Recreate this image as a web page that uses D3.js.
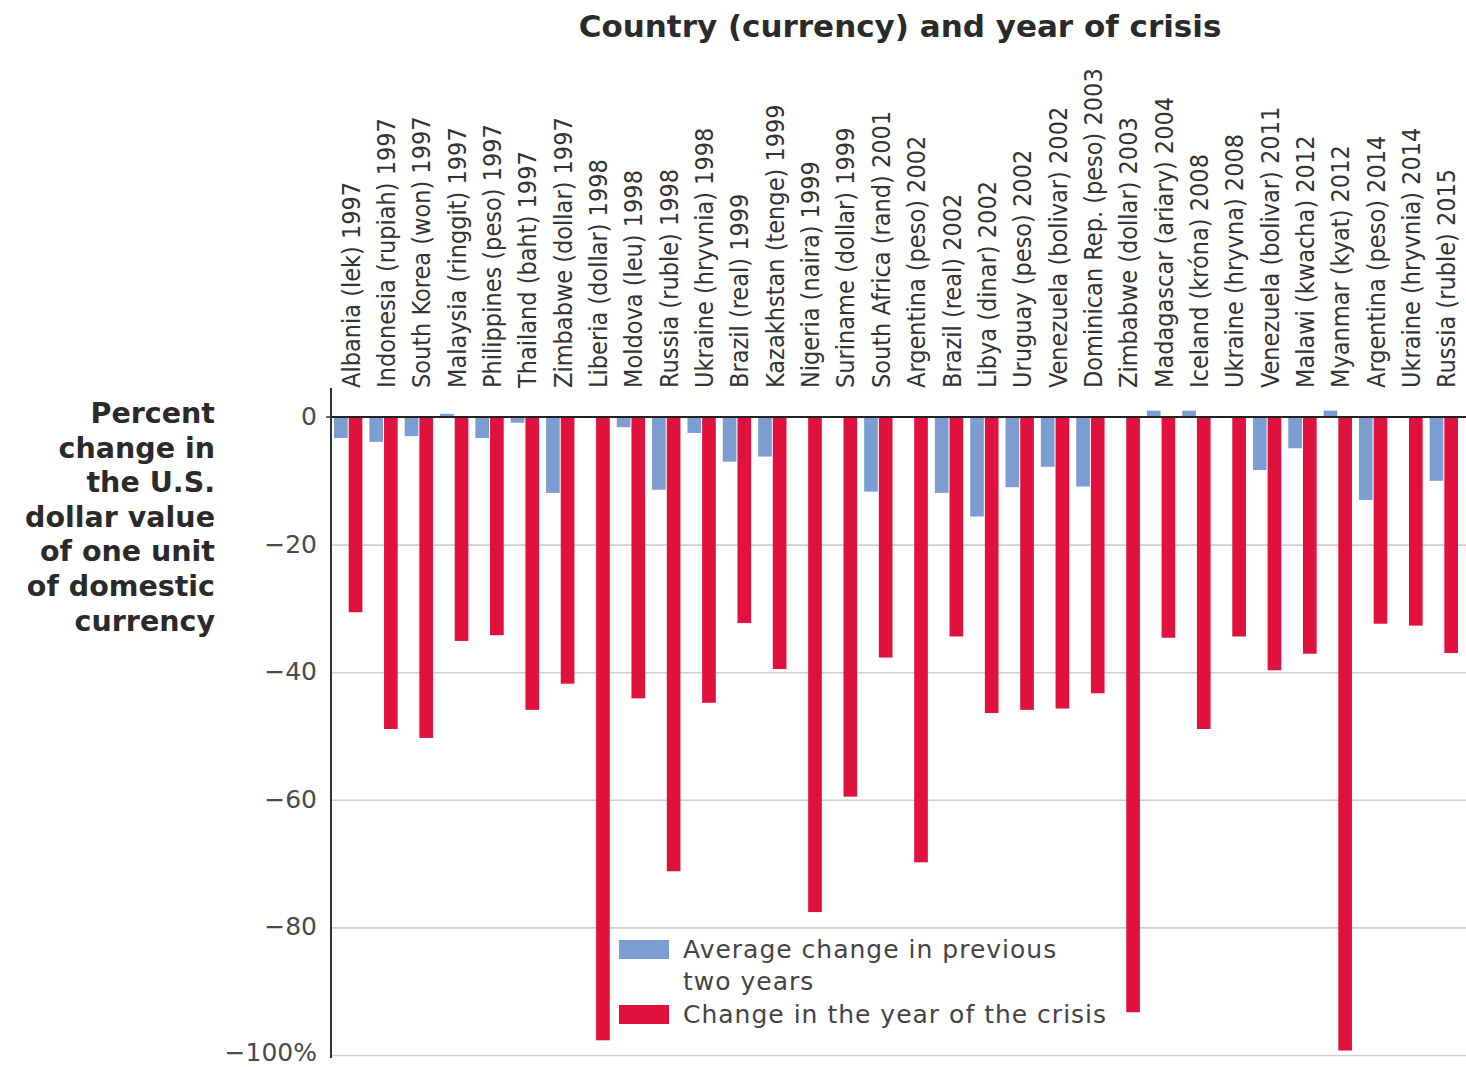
<!DOCTYPE html>
<html>
<head>
<meta charset="utf-8">
<script src="https://cdn.jsdelivr.net/npm/d3@7"></script>
<style>
  html, body { margin: 0; padding: 0; background: #fff; }
  svg { display: block; }
</style>
</head>
<body>
<div id="chart"></div>
<script>
// ---------- data ----------
const categories = [
  "Albania (lek) 1997", "Indonesia (rupiah) 1997", "South Korea (won) 1997",
  "Malaysia (ringgit) 1997", "Philippines (peso) 1997", "Thailand (baht) 1997",
  "Zimbabwe (dollar) 1997", "Liberia (dollar) 1998", "Moldova (leu) 1998",
  "Russia (ruble) 1998", "Ukraine (hryvnia) 1998", "Brazil (real) 1999",
  "Kazakhstan (tenge) 1999", "Nigeria (naira) 1999", "Suriname (dollar) 1999",
  "South Africa (rand) 2001", "Argentina (peso) 2002", "Brazil (real) 2002",
  "Libya (dinar) 2002", "Uruguay (peso) 2002", "Venezuela (bolivar) 2002",
  "Dominican Rep. (peso) 2003", "Zimbabwe (dollar) 2003", "Madagascar (ariary) 2004",
  "Iceland (króna) 2008", "Ukraine (hryvna) 2008", "Venezuela (bolivar) 2011",
  "Malawi (kwacha) 2012", "Myanmar (kyat) 2012", "Argentina (peso) 2014",
  "Ukraine (hryvnia) 2014", "Russia (ruble) 2015"
];
const avgPrevTwoYears = [
  -3.3, -3.9, -3.0, 0.5, -3.3, -0.9, -11.9, 0, -1.6, -11.4, -2.5, -7.0,
  -6.2, 0, 0, -11.7, 0, -11.9, -15.6, -11.0, -7.8, -10.9, 0, 1.0,
  1.0, 0, -8.3, -4.9, 1.0, -13.0, 0, -10.0
];
const crisisYear = [
  -30.6, -48.9, -50.3, -35.1, -34.2, -45.9, -41.8, -97.7, -44.1, -71.2, -44.8, -32.3,
  -39.5, -77.6, -59.5, -37.7, -69.8, -34.4, -46.4, -45.9, -45.7, -43.3, -93.3, -34.6,
  -48.9, -34.4, -39.7, -37.1, -99.3, -32.4, -32.7, -37.0
];
const tickValues = [0, -20, -40, -60, -80, -100];
const tickLabels = ["0", "\u221220", "\u221240", "\u221260", "\u221280", "\u2212100%"];
const seriesNames = ["Average change in previous|two years", "Change in the year of the crisis"];
const seriesColors = ["#7b9dd2", "#e0113d"];
const title = "Country (currency) and year of crisis";
const yTitleLines = ["Percent", "change in", "the U.S.", "dollar value", "of one unit", "of domestic", "currency"];

// ---------- layout ----------
const W = 1466, H = 1067;
const left = 331, right = 1462, y0px = 417, y100px = 1055;

const svg = d3.select("#chart").append("svg").attr("width", W).attr("height", H);

const x = d3.scaleBand().domain(categories).range([left, right]).padding(0);
const x1 = d3.scaleBand().domain([0, 1]).range([3, x.bandwidth() - 4]).paddingInner(0.07);
const y = d3.scaleLinear().domain([0, -100]).range([y0px, y100px]);

// gridlines
const grid = svg.append("g").attr("transform", `translate(${left},0)`)
  .call(d3.axisLeft(y).tickValues(tickValues.filter(v => v !== 0)).tickSize(-(W - left)).tickFormat(""));
grid.select(".domain").remove();
grid.selectAll("line").attr("stroke", "#cfcfcf").attr("stroke-width", 1.6);

// bars
const data = categories.map((c, i) => ({ c, vals: [avgPrevTwoYears[i], crisisYear[i]] }));
const groups = svg.append("g").selectAll("g").data(data).join("g")
  .attr("transform", d => `translate(${x(d.c)},0)`);
groups.selectAll("rect").data(d => d.vals.map((v, k) => ({ v, k }))).join("rect")
  .attr("x", d => x1(d.k))
  .attr("width", x1.bandwidth())
  .attr("y", d => Math.min(y(0), y(d.v)))
  .attr("height", d => Math.abs(y(d.v) - y(0)))
  .attr("fill", d => seriesColors[d.k]);

// zero line
svg.append("line").attr("x1", left).attr("x2", W).attr("y1", y(0)).attr("y2", y(0))
  .attr("stroke", "#222").attr("stroke-width", 1.8);

// y axis
const yAxis = svg.append("g").attr("transform", `translate(${left},0)`)
  .call(d3.axisLeft(y).tickValues(tickValues).tickSize(0).tickPadding(14)
    .tickFormat((d, i) => tickLabels[i]));
yAxis.select(".domain").remove();
yAxis.selectAll("text")
  .attr("font-family", "DejaVu Sans, sans-serif").attr("font-size", 25)
  .attr("fill", "#4a4a4a").attr("dy", d => d === -100 ? "0.2em" : "0.3em");
svg.append("line").attr("x1", left).attr("x2", left).attr("y1", 388).attr("y2", 1058)
  .attr("stroke", "#333").attr("stroke-width", 2);
svg.append("line").attr("x1", left - 5).attr("x2", left).attr("y1", y(0)).attr("y2", y(0))
  .attr("stroke", "#333").attr("stroke-width", 1.5);

// category labels
svg.append("g").selectAll("text").data(categories).join("text")
  .attr("transform", d => `translate(${x(d) + x.bandwidth() / 2 + 11},388) rotate(-90)`)
  .attr("text-anchor", "start")
  .attr("font-family", "Liberation Sans Narrow, DejaVu Sans Condensed, sans-serif")
  .attr("font-size", 25)
  .attr("fill", "#333")
  .text(d => d);

// title
svg.append("text").attr("x", 900).attr("y", 37).attr("text-anchor", "middle")
  .attr("font-family", "DejaVu Sans, sans-serif").attr("font-weight", "bold")
  .attr("font-size", 31).attr("fill", "#2a2a2a").text(title);

// y title
svg.append("g").selectAll("text").data(yTitleLines).join("text")
  .attr("x", 215).attr("y", (d, i) => 423 + i * 34.6)
  .attr("text-anchor", "end")
  .attr("font-family", "DejaVu Sans, sans-serif").attr("font-weight", "bold")
  .attr("font-size", 28.5).attr("fill", "#2a2a2a").text(d => d);

// legend
const lg = svg.append("g");
const legendY = [940, 1005];
seriesNames.forEach((name, k) => {
  lg.append("rect").attr("x", 619).attr("y", legendY[k]).attr("width", 50).attr("height", 19)
    .attr("fill", seriesColors[k]);
  name.split("|").forEach((line, j) => {
    lg.append("text").attr("x", 683).attr("y", legendY[k] + 18 + j * 32)
      .attr("font-family", "DejaVu Sans, sans-serif").attr("font-size", 25)
      .attr("letter-spacing", 1)
      .attr("fill", "#444").text(line);
  });
});
</script>
</body>
</html>
